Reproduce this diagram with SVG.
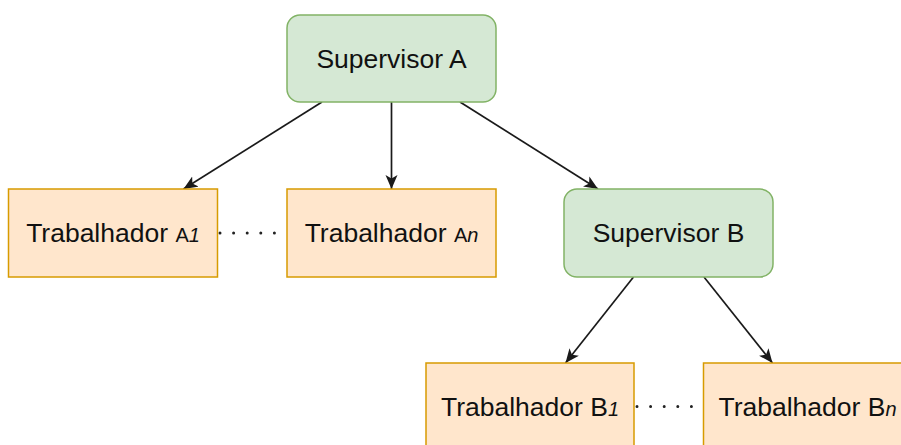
<svg xmlns="http://www.w3.org/2000/svg" width="901" height="445" viewBox="0 0 901 445">
  <defs>
    <marker id="arrow" markerUnits="userSpaceOnUse" markerWidth="15" markerHeight="13" viewBox="0 0 15 13" refX="14" refY="6.5" orient="auto">
      <path d="M0,0.5 L14,6.5 L0,12.5 L3.5,6.5 Z" fill="#1a1a1a"/>
    </marker>
    <style>
      .sup { fill: #d5e8d4; stroke: #82b366; stroke-width: 1.5; }
      .wrk { fill: #ffe6cc; stroke: #d79b00; stroke-width: 1.5; }
      .lbl { font-family: "Liberation Sans", Arial, sans-serif; font-size: 26.5px; fill: #111111; text-anchor: middle; }
      .sm { font-size: 20px; }
      .it { font-size: 20px; font-style: italic; }
      .edge { stroke: #1a1a1a; stroke-width: 1.7; fill: none; marker-end: url(#arrow); }
      .dots { stroke: #222222; stroke-width: 3; stroke-linecap: round; stroke-dasharray: 0 13.6; fill: none; }
    </style>
  </defs>

  <rect width="901" height="445" fill="#ffffff"/>

  <!-- connectors -->
  <g id="connectors">
    <line class="edge" x1="322" y1="102" x2="183.5" y2="189"/>
    <line class="edge" x1="391.5" y1="102" x2="391.5" y2="189"/>
    <line class="edge" x1="460" y1="102" x2="598" y2="189"/>
    <line class="edge" x1="633.5" y1="277" x2="565.5" y2="363"/>
    <line class="edge" x1="704" y1="277" x2="772.5" y2="363"/>
    <line class="dots" x1="220" y1="233" x2="280" y2="233"/>
    <line class="dots" x1="637" y1="406.5" x2="697" y2="406.5"/>
  </g>

  <g id="supervisor-a">
    <rect class="sup" x="287" y="15" width="209" height="87" rx="13" ry="13"/>
    <text class="lbl" x="391.5" y="68">Supervisor A</text>
  </g>

  <g id="trabalhador-a1">
    <rect class="wrk" x="8.5" y="189" width="209" height="88"/>
    <text class="lbl" x="113" y="241.5">Trabalhador <tspan class="sm">A</tspan><tspan class="it">1</tspan></text>
  </g>

  <g id="trabalhador-an">
    <rect class="wrk" x="287" y="189" width="209" height="88"/>
    <text class="lbl" x="391.5" y="241.5">Trabalhador <tspan class="sm">A</tspan><tspan class="it">n</tspan></text>
  </g>

  <g id="supervisor-b">
    <rect class="sup" x="564" y="189" width="209" height="88" rx="13" ry="13"/>
    <text class="lbl" x="668.5" y="242">Supervisor B</text>
  </g>

  <g id="trabalhador-b1">
    <rect class="wrk" x="426" y="363" width="208" height="88"/>
    <text class="lbl" x="530" y="416">Trabalhador B<tspan class="it">1</tspan></text>
  </g>

  <g id="trabalhador-bn">
    <rect class="wrk" x="703.5" y="363" width="208" height="88"/>
    <text class="lbl" x="807.5" y="416">Trabalhador B<tspan class="it">n</tspan></text>
  </g>
</svg>
